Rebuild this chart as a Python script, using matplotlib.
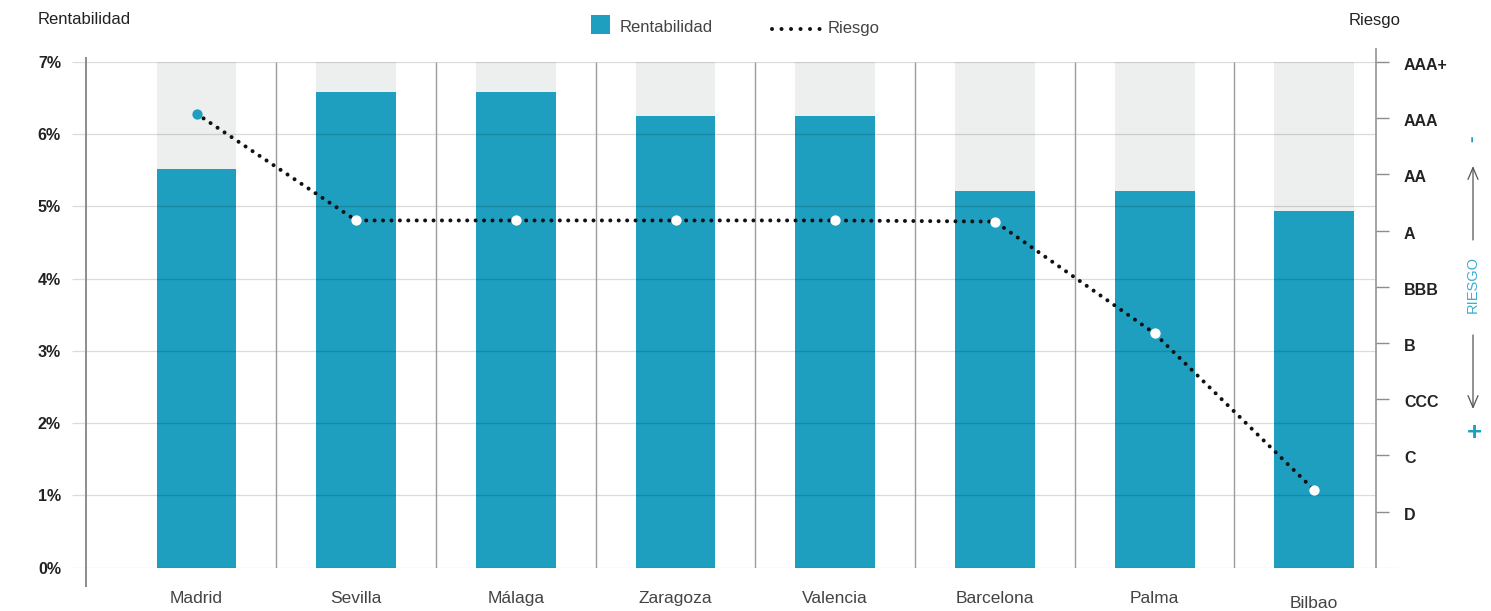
import numpy as np
import matplotlib
matplotlib.use("Agg")
import matplotlib.pyplot as plt
import matplotlib.transforms as mtransforms
from matplotlib.patches import Rectangle, FancyArrowPatch
from matplotlib.lines import Line2D

plt.rcParams['font.family'] = ['Liberation Sans', 'DejaVu Sans']

# ---- data ----
ciudades = ["Madrid", "Sevilla", "Málaga", "Zaragoza", "Valencia",
            "Barcelona", "Palma", "Bilbao"]
rentabilidad = [5.52, 6.58, 6.58, 6.25, 6.25, 5.21, 5.21, 4.94]   # %
riesgo = [7.08, 5.18, 5.18, 5.18, 5.18, 5.16, 3.17, 0.38]          # rating index (D=0 … AAA+=8)
rent_ticks = [0, 1, 2, 3, 4, 5, 6, 7]
rating_labels = ["D", "C", "CCC", "B", "BBB", "A", "AA", "AAA", "AAA+"]

# ---- style ----
TEAL = "#1e9fc0"
BG = "#edefef"
GRID = "black"
SEP = "#9c9c9c"
AXLINE = "#8c8c8c"
TXT = "#222222"
TXT2 = "#444444"

W, H = 1491, 611
fig = plt.figure(figsize=(W / 100, H / 100), dpi=100)


def fx(px):
    return px / W


def fy(py):
    return 1 - py / H


ax = fig.add_axes([fx(72), fy(567.7), (1397 - 72) / W, 505.7 / H])
xmin, xmax = -0.780, 7.518
ax.set_xlim(xmin, xmax)
ax.set_ylim(0, 7)
for s in ax.spines.values():
    s.set_visible(False)

x = np.arange(len(ciudades))
x_left_axis = -0.692
x_right_axis = 7.387

# bars: full-height background and value
ax.bar(x, [max(rent_ticks)] * len(x), width=0.5, color=BG, zorder=1)
ax.bar(x, rentabilidad, width=0.5, color=TEAL, zorder=2)

# horizontal grid drawn over the bars
for v in rent_ticks:
    right = xmax if v == 0 else x_right_axis
    ax.plot([xmin, right], [v, v], color=GRID, alpha=0.14, lw=0.9,
            zorder=3, solid_capstyle='butt')

# vertical separators between cities
ax.vlines(x[:-1] + 0.5, 0, 7, color=SEP, lw=1.0, zorder=3)

# left and right axis lines
ax.plot([x_left_axis, x_left_axis], [-0.27, 7.07], color=AXLINE, lw=1.4,
        clip_on=False, zorder=4, solid_capstyle='butt')
ax.plot([x_right_axis, x_right_axis], [0, 7.19], color=AXLINE, lw=1.1,
        clip_on=False, zorder=4, solid_capstyle='butt')

# left ticks
ax.set_yticks(rent_ticks)
ax.set_yticklabels([f"{v}%" for v in rent_ticks])
ax.tick_params(axis='y', length=0, pad=8, labelsize=11.5, labelcolor=TXT)
for lbl in ax.get_yticklabels():
    lbl.set_fontweight('bold')

# city labels
ax.set_xticks([])
label_drop = {"Bilbao": 3.0}
for xi, name in zip(x, ciudades):
    ax.annotate(name, xy=(xi, 0), xytext=(0, -22.5 - label_drop.get(name, 0)),
                textcoords='offset points', ha='center', va='center',
                fontsize=12.5, color=TXT2, annotation_clip=False)

# ---- risk axis ----
ax2 = ax.twinx()
ax2.set_ylim(-1, 8)
for s in ax2.spines.values():
    s.set_visible(False)
ax2.set_yticks(range(len(rating_labels)))
ax2.set_yticklabels(rating_labels)
ax2.tick_params(axis='y', length=0, pad=5, labelsize=11.5, labelcolor=TXT)
shift = mtransforms.ScaledTranslation(0, -2 / 100, fig.dpi_scale_trans)
for lbl in ax2.get_yticklabels():
    lbl.set_fontweight('bold')
    lbl.set_transform(lbl.get_transform() + shift)
ax2.hlines(range(len(rating_labels)), x_right_axis, x_right_axis + 13 / 159.68,
           color=AXLINE, lw=1.0, clip_on=False)

ax2.plot(x, riesgo, color="#111111", lw=2.9, linestyle=(0, (0.01, 2.08)),
         dash_capstyle='round', zorder=5)
ax2.plot(x[:1], riesgo[:1], 'o', ms=7.4, color=TEAL, mec='none', zorder=6)
ax2.plot(x[1:], riesgo[1:], 'o', ms=7.4, color='white', mec='none', zorder=6)

# ---- titles ----
fig.text(fx(38), fy(20), "Rentabilidad", ha='left', va='center',
         fontsize=12, color=TXT)
fig.text(fx(1349), fy(20), "Riesgo", ha='left', va='center',
         fontsize=12, color=TXT)

# ---- legend ----
fig.add_artist(Rectangle((fx(591), fy(34)), 19 / W, 19 / H,
                         transform=fig.transFigure, color=TEAL, lw=0))
fig.text(fx(620), fy(28), "Rentabilidad", ha='left', va='center',
         fontsize=12, color=TXT2)
fig.add_artist(Line2D([fx(772), fx(820)], [fy(29), fy(29)],
                      transform=fig.transFigure, color="#111111", lw=2.9,
                      linestyle=(0, (0.01, 2.35)), dash_capstyle='round'))
fig.text(fx(828), fy(28), "Riesgo", ha='left', va='center',
         fontsize=12, color=TXT2)

# ---- risk direction indicator ----
fig.text(fx(1473), fy(284), "RIESGO", rotation=90, ha='center', va='center',
         fontsize=10.5, color="#3aafd6")
for tail, tip in [(240, 166), (335, 409)]:
    fig.add_artist(FancyArrowPatch((fx(1473), fy(tail)), (fx(1473), fy(tip)),
                                   transform=fig.transFigure,
                                   arrowstyle='->,head_length=8.5,head_width=3.6',
                                   mutation_scale=1, color="#555555", lw=0.9,
                                   shrinkA=0, shrinkB=0))
fig.text(fx(1473), fy(139), "-", rotation=90, ha='center', va='center',
         fontsize=14, fontweight='bold', color=TEAL)
fig.text(fx(1474), fy(433), "+", ha='center', va='center',
         fontsize=18.5, fontweight='bold', color=TEAL)

fig.savefig("out.png", dpi=100)
